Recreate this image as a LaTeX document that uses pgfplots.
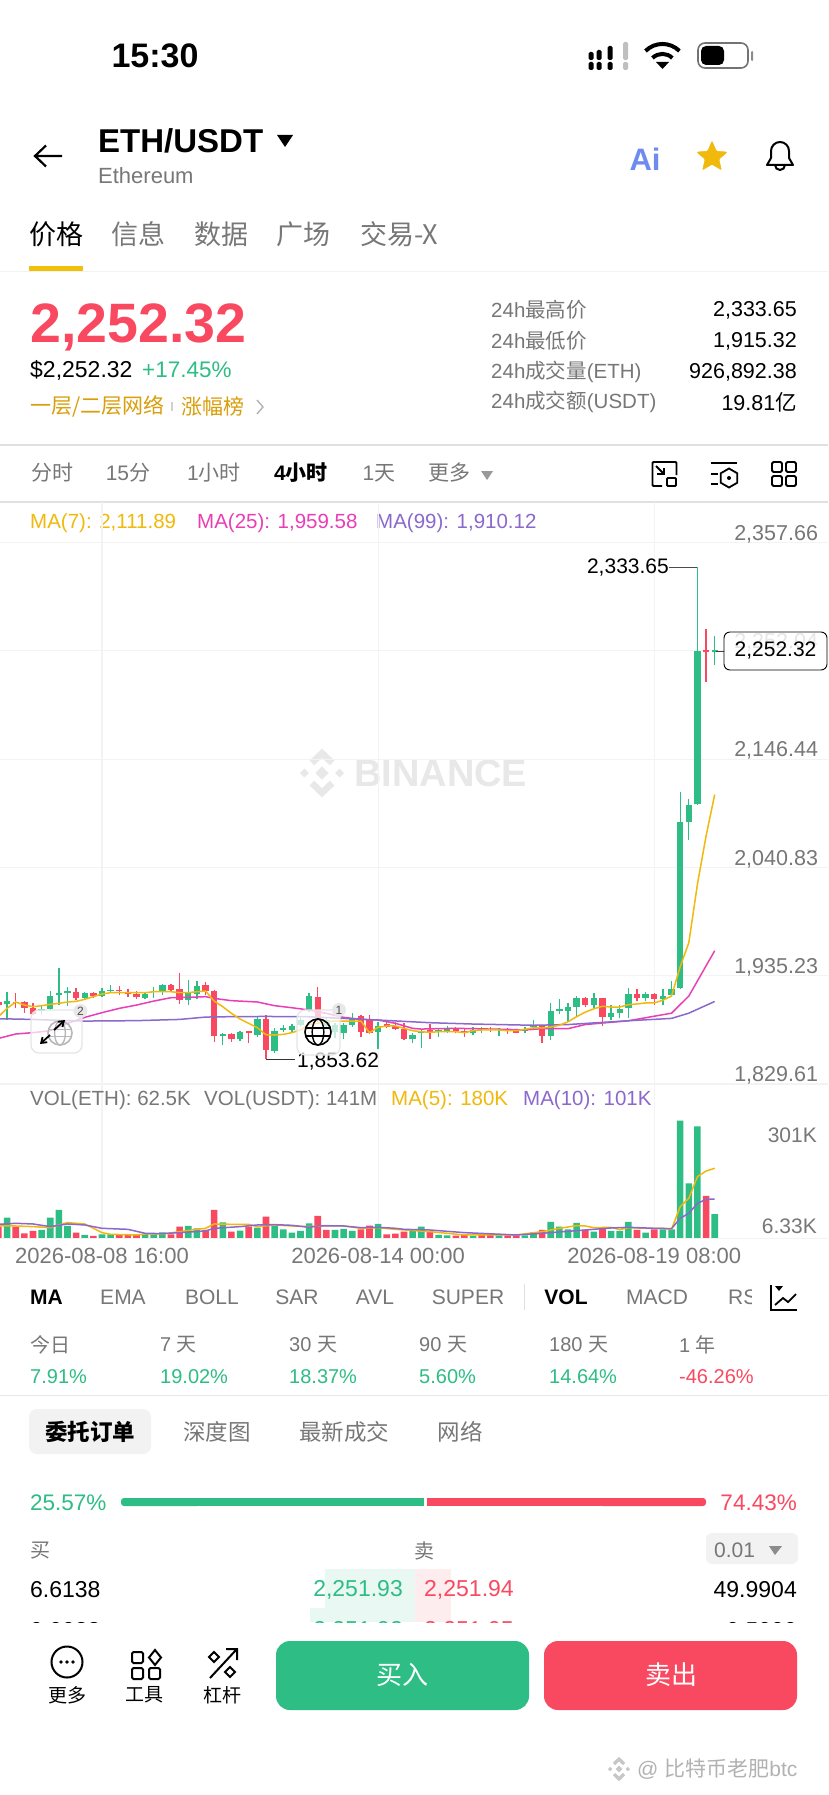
\documentclass[border=0pt]{standalone}
\usepackage{fontspec}
\usepackage{pgfplots}
\usepackage{pgfplotstable}
\pgfplotsset{compat=1.18}
\usetikzlibrary{shapes.geometric,arrows.meta}
\setmainfont{Liberation Sans}
\newfontfamily\cjk{Noto Sans CJK SC}
\definecolor{up}{HTML}{2EBD85}
\definecolor{dn}{HTML}{F84960}
\definecolor{ma7}{HTML}{F0B90B}
\definecolor{ma25}{HTML}{E93FB5}
\definecolor{ma99}{HTML}{8B68CC}
\definecolor{gt}{HTML}{777777}
\definecolor{gl}{HTML}{F3F3F3}
\definecolor{org}{HTML}{D99E0A}
\definecolor{aic}{HTML}{6E8BF0}
\newcommand\T[6]{\node[anchor=#3,inner sep=0pt,text=#5,font=\fontsize{#4}{#4}\selectfont] at (#1,#2) {#6};}
\newcommand\BNB[4]{\begin{scope}[shift={(#1,#2)},x=#3pt,y=#3pt]
 \draw[#4,line width=.3*#3pt] (-.46,-.46)--(0,-.9)--(.46,-.46);
 \draw[#4,line width=.3*#3pt] (-.46,.46)--(0,.9)--(.46,.46);
 \fill[#4] (0,-.3)--(.3,0)--(0,.3)--(-.3,0)--cycle;
 \fill[#4] (-.8,-.2)--(-.6,0)--(-.8,.2)--(-1,0)--cycle;
 \fill[#4] (.8,-.2)--(.6,0)--(.8,.2)--(1,0)--cycle;
\end{scope}}
\newcommand\Globe[4]{\begin{scope}[shift={(#1,#2)}]
 \draw[#4,line width=1.6pt] (0,0) circle (#3);
 \draw[#4,line width=1.4pt] (0,0) ellipse (.45*#3 and #3);
 \draw[#4,line width=1.4pt] (-#3,-.3*#3)--(#3,-.3*#3) (-#3,.3*#3)--(#3,.3*#3);
\end{scope}}
% candles: i high bodytop bodybottom low
\pgfplotstableread{
i high top bot low
-11 1919.6 1910.5 1907.6 1892.0
-7 1906.6 1902.4 1901.1 1897.9
-6 1920.6 1915.7 1902.4 1901.8
-5 1942.4 1918.0 1916.4 1906.6
-4 1924.5 1920.0 1918.7 1905.7
-2 1919.0 1918.0 1913.1 1912.2
0 1922.9 1920.6 1915.4 1914.8
1 1926.1 1921.3 1920.0 1918.0
5 1919.6 1917.7 1913.8 1912.5
6 1924.5 1920.3 1919.0 1913.1
7 1927.1 1926.1 1920.3 1916.4
10 1931.0 1918.0 1911.5 1906.6
11 1930.4 1925.2 1917.4 1912.2
14 1879.0 1878.0 1876.7 1867.6
16 1881.3 1880.6 1873.2 1871.5
18 1895.3 1892.7 1877.4 1875.8
20 1883.9 1881.6 1862.1 1859.5
21 1887.1 1883.9 1882.3 1880.0
22 1887.8 1886.2 1882.3 1880.6
23 1893.6 1892.0 1887.1 1885.5
24 1918.0 1915.4 1901.8 1900.1
26 1893.6 1892.0 1886.2 1883.9
27 1888.8 1887.1 1880.6 1874.1
28 1888.8 1887.1 1879.7 1873.2
29 1899.2 1894.3 1887.1 1885.5
32 1890.4 1886.2 1880.6 1863.4
36 1879.0 1877.4 1873.2 1869.3
37 1882.3 1881.3 1879.0 1864.4
39 1883.9 1882.3 1881.0 1875.8
40 1886.2 1883.6 1881.6 1879.7
43 1884.9 1882.3 1879.7 1877.4
44 1884.9 1883.6 1882.3 1879.0
46 1883.9 1882.9 1881.9 1876.7
49 1884.9 1883.6 1881.6 1879.0
50 1891.9 1887.6 1884.9 1883.6
52 1908.7 1901.0 1876.2 1872.8
53 1912.1 1903.0 1901.0 1897.6
54 1908.7 1904.7 1901.0 1890.9
55 1915.4 1913.1 1904.7 1895.3
57 1918.8 1913.1 1907.0 1903.7
59 1907.0 1898.7 1895.0 1891.9
60 1906.4 1903.0 1898.7 1893.6
61 1923.1 1917.8 1903.7 1893.6
63 1919.8 1917.8 1913.1 1910.4
65 1922.1 1915.4 1912.1 1906.4
66 1929.9 1922.5 1916.4 1915.4
67 2114.4 2084.9 1923.1 1922.1
68 2107.7 2101.7 2085.6 2067.5
69 2333.65 2252.0 2102.4 2101.7
71 2266.1 2252.7 2251.4 2238.6
}\candup
\pgfplotstableread{
i high top bot low
-12 1914.8 1909.9 1906.6 1903.4
-10 1918.7 1909.9 1908.3 1903.4
-9 1910.5 1909.9 1904.0 1898.5
-8 1908.9 1904.0 1897.9 1896.9
-3 1922.9 1919.0 1913.8 1911.5
-1 1919.6 1918.0 1915.4 1913.1
2 1925.2 1921.3 1920.0 1916.4
3 1922.2 1919.6 1917.7 1914.1
4 1920.6 1917.0 1914.1 1912.5
8 1926.8 1926.1 1921.6 1919.6
9 1938.2 1921.9 1911.5 1907.6
12 1929.4 1926.1 1920.6 1916.4
13 1921.3 1920.3 1876.4 1870.9
15 1879.7 1878.0 1873.2 1870.9
17 1881.6 1881.0 1879.0 1869.3
19 1896.9 1892.7 1862.8 1853.62
25 1924.5 1914.8 1892.0 1890.4
30 1896.9 1895.9 1880.6 1875.8
31 1896.9 1892.7 1879.0 1878.0
33 1892.0 1888.1 1885.5 1883.9
34 1890.4 1886.2 1883.6 1882.3
35 1888.8 1882.9 1873.5 1872.5
38 1888.1 1882.3 1880.0 1873.5
41 1884.9 1882.9 1881.3 1879.0
42 1883.9 1881.6 1879.0 1875.8
45 1884.9 1883.6 1881.9 1880.6
47 1883.9 1882.9 1881.0 1878.4
48 1882.9 1882.3 1879.7 1879.0
51 1886.2 1886.2 1876.2 1869.5
56 1914.4 1913.1 1907.0 1904.7
58 1913.8 1913.1 1895.0 1886.2
62 1922.1 1917.8 1913.1 1910.4
64 1918.8 1917.8 1912.1 1906.4
70 2273.5 2252.7 2250.7 2221.8
}\canddn
\pgfplotstableread{
i v
-11 53.1
-7 21.4
-6 53.1
-5 72.8
-4 31.7
-2 8.6
0 10.3
1 10.3
5 11.1
6 10.3
7 15.4
10 31.7
11 25.7
14 41.1
16 19.7
18 27.4
20 31.7
21 23.1
22 14.6
23 18.9
24 38.6
27 21.4
28 24
29 18.9
32 36.9
36 18.9
37 30
39 8.6
40 7.7
43 6
46 7.7
49 7.7
50 15.4
52 42
53 30
54 23.1
55 39.4
57 17.1
59 18.9
60 18.9
61 42
63 14.6
65 23.1
66 23.1
67 302.5
68 141
69 288
71 62.5
}\volup
\pgfplotstableread{
i v
-12 30
-10 30
-9 12.9
-8 18.9
-3 14.6
-1 6
2 8.6
3 8.6
4 8.6
8 10.3
9 30
12 21.4
13 72.8
15 17.1
17 30
19 55.7
25 57.4
26 21.4
30 23.1
31 32.6
33 10.3
34 12
35 17.1
38 17.1
41 6.9
42 10.3
44 8.6
45 8.6
47 7.7
48 7.7
51 21.4
56 21.4
58 25.7
62 21.4
64 23.1
70 108.8
}\voldn
\pgfplotsset{
 candle/.style n args={2}{draw=none,no markers,forget plot,error bars/.cd,y dir=plus,y explicit,error mark=none,error bar style={color=#1,line width=#2}},
}
\begin{document}
\begin{tikzpicture}[x=1pt,y=-1pt,line cap=butt]
\useasboundingbox[fill=white] (0,0) rectangle (828,1795);
% status bar
\T{155}{56}{center}{34}{black}{\bfseries 15:30}
\foreach \x/\a in {591/52,599/50,610/46}{\fill[black,rounded corners=1.5pt] (\x-2.5,\a) rectangle (\x+2.5,60);\fill[black,rounded corners=1.5pt] (\x-2.5,62) rectangle (\x+2.5,70);}
\fill[black!25,rounded corners=1.5pt] (623,42) rectangle (628,60);
\fill[black!25,rounded corners=1.5pt] (623,62) rectangle (628,70);
\draw[black,line width=4pt] (645.5,51) arc[start angle=225,end angle=315,radius=24];
\draw[black,line width=4pt] (652.5,58) arc[start angle=225,end angle=315,radius=14];
\fill[black] (662.5,69)--(656,62)--(669,62)--cycle;
\draw[black!55,line width=1.6pt,rounded corners=7pt] (698,43) rectangle (748,68);
\fill[black,rounded corners=5pt] (701,46) rectangle (724,65);
\fill[black!45,rounded corners=1pt] (751,51) rectangle (753,61);
% header
\draw[black,line width=2.2pt] (62,156)--(35,156) (46,145.5)--(35,156)--(46,166.5);
\T{98}{141}{west}{33}{black}{\bfseries ETH/USDT}
\fill[black] (285,147)--(277,135)--(293,135)--cycle;
\T{98}{176}{west}{22}{gt}{Ethereum}
\T{645}{159}{center}{31}{aic}{\bfseries Ai}
\node[star,star points=5,star point ratio=2.2,fill=ma7,draw=ma7,inner sep=0pt,minimum size=32pt,rounded corners=1pt] at (712,157) {};
\draw[black,line width=2pt,line join=round] (767,165)--(771,158)--(771,151) arc[start angle=180,end angle=360,radius=9]--(789,158)--(793,165)--cycle;
\draw[black,line width=2pt] (775,165) arc[start angle=180,end angle=0,radius=5];
% tabs
\T{56}{234}{center}{27}{black}{\cjk 价格}
\T{138}{234}{center}{27}{gt}{\cjk 信息}
\T{221}{234}{center}{27}{gt}{\cjk 数据}
\T{303}{234}{center}{27}{gt}{\cjk 广场}
\T{360}{234}{west}{27}{gt}{\cjk 交易-X}
\fill[ma7!90!yellow] (29,266) rectangle (83,271);
\draw[gl,line width=1.2pt] (0,271.5)--(828,271.5);
% price panel
\T{30}{327}{west}{55.5}{dn}{\bfseries 2,252.32}
\T{30}{370}{west}{23}{black}{\$2,252.32}
\T{142}{370}{west}{22.5}{up}{+17.45\%}
\T{30}{406}{west}{21}{org}{\cjk 一层/二层网络}
\fill[black!18] (171,402) rectangle (172.5,411);
\T{181}{406}{west}{21}{org}{\cjk 涨幅榜}
\draw[black!30,line width=1.4pt] (257,400)--(263,407)--(257,414);
\foreach \y/\l/\v in {310/最高价/{2,333.65},341/最低价/{1,915.32},372/成交量{\fontspec{Liberation Sans}(ETH)}/{926,892.38},402/成交额{\fontspec{Liberation Sans}(USDT)}/{19.81{\cjk 亿}}}{
 \T{491}{\y}{west}{20.5}{gt}{24h{\cjk \l}}
 \T{797}{\y}{east}{21.5}{black}{\v}
}
\draw[black!12,line width=1.2pt] (0,445)--(828,445);
% time tabs
\T{52}{473}{center}{21}{gt}{\cjk 分时}
\T{128}{473}{center}{21}{gt}{15{\cjk 分}}
\T{214}{473}{center}{21}{gt}{1{\cjk 小时}}
\T{301}{473}{center}{21}{black}{\bfseries 4{\cjk 小时}}
\T{379}{473}{center}{21}{gt}{1{\cjk 天}}
\T{449}{473}{center}{21}{gt}{\cjk 更多}
\fill[black!40] (487,480)--(481,471)--(493,471)--cycle;
% tool icons
\draw[black,line width=1.8pt,rounded corners=1pt] (662,486)--(652.5,486)--(652.5,462)--(676.5,462)--(676.5,475);
\draw[black,line width=1.8pt,rounded corners=1pt] (667,478) rectangle (676,486);
\draw[black,line width=1.8pt] (656,466)--(664,474) (664,468)--(664,474)--(657,474);
\draw[black,line width=1.8pt] (711,463)--(737,463) (711,474)--(718,474) (711,484)--(718,484);
\node[regular polygon,regular polygon sides=6,shape border rotate=30,draw=black,line width=1.8pt,inner sep=0pt,minimum size=19pt] at (729,478) {};
\fill[black] (729,478) circle (2);
\foreach \x in {772,786}\foreach \y in {462,476}{\draw[black,line width=1.8pt,rounded corners=1.5pt] (\x,\y) rectangle (\x+10,\y+10);}
\draw[black!12,line width=1.2pt] (0,502)--(828,502);
% MA legend
\T{30}{523}{west}{20.5}{ma7}{MA(7): 2,111.89}
\T{197}{523}{west}{20.5}{ma25}{MA(25): 1,959.58}
\T{376}{523}{west}{20.5}{ma99}{MA(99): 1,910.12}
% watermark
\BNB{322}{773}{22}{black!9}
\T{354}{773}{west}{38}{black!9}{\bfseries BINANCE}
% price axis
\begin{axis}[at={(0pt,-1084pt)},anchor=south west,width=828pt,height=582pt,scale only axis,
 xmin=-11.82,xmax=84.13,ymin=1829.61,ymax=2397.25,
 axis line style={draw=none},tick style={draw=none},
 xtick={0,32,64},xticklabels={},
 ytick={1829.61,1935.23,2040.83,2146.44,2252.04,2357.66},
 yticklabel pos=right,
 yticklabel style={anchor=east,xshift=-6.5pt,yshift=8.5pt,text=gt,font=\fontsize{21.5}{21.5}\selectfont,
   /pgf/number format/.cd,fixed,fixed zerofill,precision=2,1000 sep={,},assume math mode=true},
 grid=major,grid style={color=gl,line width=1.1pt},
 clip=true]
\addplot[candle={up}{1.3pt}] table[x=i,y=low,y error plus expr=\thisrow{high}-\thisrow{low},y error minus expr=0]{\candup};
\addplot[candle={dn}{1.3pt}] table[x=i,y=low,y error plus expr=\thisrow{high}-\thisrow{low},y error minus expr=0]{\canddn};
\addplot[candle={up}{6.4pt}] table[x=i,y=bot,y error plus expr=\thisrow{top}-\thisrow{bot},y error minus expr=0]{\candup};
\addplot[candle={dn}{6.4pt}] table[x=i,y=bot,y error plus expr=\thisrow{top}-\thisrow{bot},y error minus expr=0]{\canddn};
% MA(25)
\addplot[ma25,line width=1.5pt] coordinates {(-12,1874.1)(-10,1878.4)(-8,1879.7)(-6,1881.6)(-4,1888.8)(-2,1894.6)(0,1899.2)(2,1903.4)(4,1906.6)(6,1910.5)(8,1913.8)(10,1914.1)(12,1914.8)(13,1913.1)(15,1910.9)(18,1909.6)(20,1906)(22,1904)(24,1901.8)(26,1898.5)(28,1894.6)(30,1892.7)(32,1892)(34,1888.8)(36,1883.9)(37,1883.2)(39,1883.6)(41,1883.9)(43,1883.6)(45,1883.2)(47,1882.9)(49,1882.3)(51,1883.6)(54,1883.6)(56,1887.6)(61,1891.3)(66,1898.7)(68,1915.4)(71,1959.58)};
% MA(99)
\addplot[ma99,line width=1.5pt] coordinates {(-12,1893.3)(-8,1892.6)(-6,1892)(-2,1891)(4,1891.4)(9,1892.6)(12,1894.9)(15,1895.3)(19,1895.5)(24,1895.2)(28,1893.6)(32,1892)(38,1889.4)(43,1888.1)(50,1886.9)(54,1887.6)(61,1891.3)(66,1893.6)(68,1898.7)(71,1910.12)};
% MA(7)
\addplot[ma7,line width=1.5pt] coordinates {(-12,1895.3)(-11,1903.4)(-10,1909.6)(-9,1906.6)(-8,1905)(-7,1906)(-6,1907.3)(-5,1908.3)(-4,1909.6)(-3,1910.2)(-2,1912.2)(-1,1914.8)(0,1917.4)(1,1918.7)(2,1918.7)(3,1918.7)(4,1918.7)(5,1918.7)(6,1919.6)(7,1919.6)(8,1919.6)(9,1918.7)(10,1918.7)(11,1919.6)(12,1920.3)(13,1910.5)(14,1905)(15,1898.5)(16,1893)(17,1888.8)(18,1884.5)(19,1877.7)(20,1877.4)(21,1878)(22,1879.7)(23,1882.3)(24,1887.8)(25,1888.8)(26,1890.4)(27,1891)(28,1891)(29,1891)(30,1891)(31,1879.7)(32,1884.9)(33,1886.2)(34,1886.2)(35,1883.9)(36,1881.6)(37,1880.6)(38,1880)(39,1880.6)(40,1880.6)(41,1880.6)(42,1879.7)(43,1881.6)(44,1882.3)(45,1882.3)(46,1882.3)(47,1881.6)(48,1881.6)(49,1882.9)(50,1884.5)(51,1884.2)(52,1885.2)(53,1886.9)(54,1890.3)(55,1895.3)(56,1899.7)(57,1903)(58,1905.4)(59,1904.7)(60,1904.7)(61,1907)(62,1907.7)(63,1908.7)(64,1908.7)(65,1911.4)(66,1915.4)(67,1944)(68,1967.4)(69,2024.5)(70,2071.5)(71,2111.89)};
\end{axis}
% volume axis
\begin{axis}[at={(0pt,-1238.3pt)},anchor=south west,width=828pt,height=154.3pt,scale only axis,
 xmin=-11.82,xmax=84.13,ymin=0,ymax=396.7,
 axis line style={draw=none},tick style={draw=none},
 xtick={0,32,64},xticklabels={2026-08-08 16:00,2026-08-14 00:00,2026-08-19 08:00},
 xticklabel style={anchor=center,yshift=-18pt,text=gt,font=\fontsize{22}{22}\selectfont},
 ytick=\empty,xmajorgrids,grid style={color=gl,line width=1.1pt},clip=true]
\addplot[ybar,bar width=6.6pt,bar shift=0pt,fill=up,draw=none,forget plot] table[x=i,y=v]{\volup};
\addplot[ybar,bar width=6.6pt,bar shift=0pt,fill=dn,draw=none,forget plot] table[x=i,y=v]{\voldn};
\addplot[ma7,line width=1.5pt] coordinates {(-12,31.7)(-10,31.7)(-8,30)(-6,27.4)(-5,34.3)(-4,40.3)(-2,36.9)(0,14.6)(1,10.3)(4,8.6)(5,11.1)(7,11.1)(9,17.1)(11,23.1)(12,25.7)(13,36.9)(15,36)(17,36)(18,30)(20,34.3)(22,31.7)(24,30)(26,32.6)(28,31.7)(30,25.7)(32,27.4)(34,23.1)(38,17.1)(42,8.6)(48,8.6)(51,17.1)(53,25.7)(55,32.6)(56,31.7)(57,27.4)(59,28.3)(60,22.3)(61,27.4)(63,25.7)(65,25.7)(66,23.1)(67,81.4)(68,102.8)(69,158.5)(70,173)(71,180)};
\addplot[ma99,line width=1.5pt] coordinates {(-12,36)(-10,38.6)(-8,36.9)(-6,30)(-4,36.9)(-2,34.3)(0,25.7)(3,23.1)(5,12.9)(7,12)(9,14.6)(12,18.9)(13,25.7)(16,30)(18,34.3)(20,35.1)(22,33.4)(24,28.3)(25,31.7)(28,31.7)(30,27.4)(32,28.3)(34,25.7)(35,23.1)(38,21.4)(42,14.6)(48,8.6)(51,12.9)(55,19.7)(59,26.6)(61,28.3)(64,25.7)(66,24.9)(67,51.4)(68,64.3)(69,90)(70,100)(71,101)};
\end{axis}
\draw[gl,line width=1.1pt] (0,1238.5)--(828,1238.5);
% annotations over the chart
\T{669}{568}{east}{21}{black}{2,333.65}
\draw[black!70,line width=.9pt] (669,567)--(697,567);
\T{297}{1061}{west}{21}{black}{1,853.62}
\draw[black!80,line width=.9pt] (266,1059)--(295,1059);
\draw[black!75,line width=.9pt] (716,651)--(724,651);
\draw[black,line width=.9pt,rounded corners=6pt,fill=white,fill opacity=.82] (724,632) rectangle (827,670);
\T{775.5}{651}{center}{21}{black}{2,252.32}
% floating widgets
\draw[black!10,line width=1.2pt,fill=white,fill opacity=.72,rounded corners=8pt] (31,1010) rectangle (82,1053);
\Globe{60}{1033}{12pt}{black!28}
\draw[black,line width=1.8pt,-{Straight Barb[length=5pt,width=7pt]}] (54,1030)--(65,1020);
\draw[black,line width=1.8pt,-{Straight Barb[length=5pt,width=7pt]}] (50,1035)--(40,1044);
\fill[black!9] (80.5,1011) circle (7);
\T{80.5}{1011}{center}{12}{black!70}{2}
\draw[black!10,line width=1.2pt,fill=white,fill opacity=.72,rounded corners=8pt] (297,1010) rectangle (340,1055);
\Globe{318}{1032}{13pt}{black}
\fill[black!9] (339,1010) circle (7);
\T{339}{1010}{center}{12}{black!70}{1}
% volume legend and labels
\T{30}{1100}{west}{20.5}{gt}{VOL(ETH): 62.5K}
\T{204}{1100}{west}{20.5}{gt}{VOL(USDT): 141M}
\T{391}{1100}{west}{20.5}{ma7}{MA(5): 180K}
\T{523}{1100}{west}{20.5}{ma99}{MA(10): 101K}
\T{817}{1135}{east}{21}{gt}{301K}
\T{817}{1226}{east}{21}{gt}{6.33K}
% indicator row
\T{30}{1297}{west}{21}{black}{\bfseries MA}
\T{123}{1297}{center}{21}{gt}{EMA}
\T{212}{1297}{center}{21}{gt}{BOLL}
\T{297}{1297}{center}{21}{gt}{SAR}
\T{375}{1297}{center}{21}{gt}{AVL}
\T{468}{1297}{center}{21}{gt}{SUPER}
\fill[black!12] (523.5,1284) rectangle (525,1310);
\T{566}{1297}{center}{21}{black}{\bfseries VOL}
\T{657}{1297}{center}{21}{gt}{MACD}
\begin{scope}
\clip (720,1280) rectangle (751,1315);
\T{728}{1297}{west}{21}{gt}{RSI}
\end{scope}
\draw[black,line width=1.8pt] (771,1285)--(771,1310)--(797,1310);
\draw[black,line width=1.8pt] (775,1305)--(783,1298)--(788,1302)--(796,1294);
\fill[black] (779,1291)--(775,1286)--(783,1286)--cycle;
% period row
\foreach \x/\a/\b/\c in {30/{\cjk 今日}/7.91\%/up,160/7 {\cjk 天}/19.02\%/up,289/30 {\cjk 天}/18.37\%/up,419/90 {\cjk 天}/5.60\%/up,549/180 {\cjk 天}/14.64\%/up,679/1 {\cjk 年}/-46.26\%/dn}{
 \T{\x}{1345}{west}{20}{gt}{\a}
 \T{\x}{1377}{west}{20}{\c}{\b}
}
\draw[black!9,line width=1.2pt] (0,1395.5)--(828,1395.5);
% order book
\fill[black!5,rounded corners=8pt] (29,1409) rectangle (151,1454);
\T{90}{1432}{center}{22.5}{black}{\cjk\bfseries 委托订单}
\T{217}{1432}{center}{22.5}{gt}{\cjk 深度图}
\T{344}{1432}{center}{22.5}{gt}{\cjk 最新成交}
\T{460}{1432}{center}{22.5}{gt}{\cjk 网络}
\T{30}{1503}{west}{22.5}{up}{25.57\%}
\T{797}{1503}{east}{22.5}{dn}{74.43\%}
\fill[up,rounded corners=3pt] (121,1498) rectangle (200,1506);
\fill[up] (190,1498) rectangle (423.5,1506);
\fill[dn,rounded corners=3pt] (600,1498) rectangle (706,1506);
\fill[dn] (427,1498) rectangle (650,1506);
\T{30}{1551}{west}{20}{gt}{\cjk 买}
\T{424}{1551}{center}{20}{gt}{\cjk 卖}
\fill[black!5,rounded corners=6pt] (706,1533) rectangle (798,1564);
\T{714}{1550}{west}{21}{gt}{0.01}
\fill[black!45] (775,1555)--(769,1546)--(782,1546)--cycle;
\fill[up!10] (325,1569) rectangle (414.5,1622);
\fill[up!10] (310,1608) rectangle (325,1622);
\fill[dn!10] (414.5,1569) rectangle (451,1622);
\T{30}{1590}{west}{23}{black}{6.6138}
\T{403}{1590}{east}{23}{up}{2,251.93}
\T{424}{1590}{west}{23}{dn}{2,251.94}
\T{797}{1590}{east}{23}{black}{49.9904}
\begin{scope}
\clip (0,1610) rectangle (828,1622);
\T{30}{1631}{west}{23}{black}{0.0023}
\T{403}{1631}{east}{23}{up}{2,251.92}
\T{424}{1631}{west}{23}{dn}{2,251.95}
\T{797}{1631}{east}{23}{black}{0.5000}
\end{scope}
% bottom bar
\draw[black,line width=2pt] (67,1662) circle (15.5);
\foreach \d in {-6,0,6}{\fill[black] (67+\d,1662) circle (1.8);}
\T{67}{1695}{center}{19}{black}{\cjk 更多}
\foreach \x/\y in {132/1652,132/1668}{\draw[black,line width=2pt,rounded corners=1.5pt] (\x,\y) rectangle (\x+11,\y+11);}
\draw[black,line width=2pt] (155,1650)--(161,1657.5)--(155,1665)--(149,1657.5)--cycle;
\draw[black,line width=2pt,rounded corners=1.5pt] (149,1668) rectangle (160,1679);
\T{144}{1695}{center}{19}{black}{\cjk 工具}
\draw[black,line width=2pt] (210,1678)--(236,1650) (226,1649)--(237,1649)--(237,1660);
\draw[black,line width=2pt] (214,1652)--(219,1657)--(214,1662)--(209,1657)--cycle;
\draw[black,line width=2pt] (230,1667)--(235,1672)--(230,1677)--(225,1672)--cycle;
\T{222}{1695}{center}{19}{black}{\cjk 杠杆}
\fill[up,rounded corners=14pt] (276,1641) rectangle (529,1710);
\T{402}{1675}{center}{26}{white}{\cjk 买入}
\fill[dn,rounded corners=14pt] (544,1641) rectangle (797,1710);
\T{671}{1675}{center}{26}{white}{\cjk 卖出}
% image credit
\BNB{619}{1769}{11}{black!22}
\T{637}{1769}{west}{21}{black!30}{@ {\cjk 比特币老肥}btc}
\end{tikzpicture}
\end{document}
